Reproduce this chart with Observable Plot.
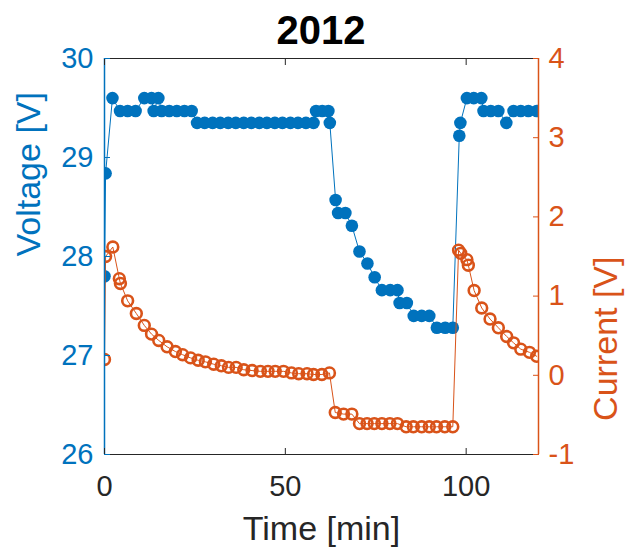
<!DOCTYPE html>
<html>
<head>
<meta charset="utf-8">
<script src="https://cdn.jsdelivr.net/npm/d3@7"></script>
<script src="https://cdn.jsdelivr.net/npm/@observablehq/plot@0.6"></script>
<style>
  html, body { margin: 0; padding: 0; background: #fff; }
  #title { height: 50px; width: 625px; text-align: center; font-family: "Liberation Sans", Arial, sans-serif; font-weight: bold; font-size: 40px; line-height: 60px; color: #000; padding-left: 17px; box-sizing: border-box; }
</style>
</head>
<body>
<div id="title">2012</div>
<div id="chart"></div>
<script>
// ---- data ----
const chartTitle = "2012";
const xLabel = "Time [min]";
const yLeftLabel = "Voltage [V]";
const yRightLabel = "Current [V]";
const xTicks = [0, 50, 100];
const voltTicks = [26, 27, 28, 29, 30];
const currentTicks = [-1, 0, 1, 2, 3, 4];

const timeV = [0, 0.3, 2.2, 4.3, 6.4, 8.6, 11.0, 13.0, 13.6, 14.9, 15.8, 17.9, 20.0, 22.1, 24.1,
  25.6, 27.7, 29.9, 32.0, 34.2, 36.3, 38.5, 40.6, 42.8, 44.9, 47.1, 49.2, 51.4, 53.5, 55.7, 57.8,
  58.5, 60.2, 61.9, 62.3, 63.9, 64.6, 66.6, 68.4, 70.5, 72.7, 74.7, 76.7, 79.0, 81.0, 81.6, 83.6,
  85.5, 87.7, 89.8, 91.9, 94.2, 96.3, 98.1, 98.4, 100.2, 102.1, 104.2, 104.8, 106.8, 108.9, 111.1,
  113.1, 115.1, 117.2, 119.5];
const voltage = [27.8, 28.84, 29.6, 29.47, 29.47, 29.47, 29.6, 29.6, 29.47, 29.6, 29.47, 29.47, 29.47, 29.47, 29.47,
  29.35, 29.35, 29.35, 29.35, 29.35, 29.35, 29.35, 29.35, 29.35, 29.35, 29.35, 29.35, 29.35, 29.35, 29.35, 29.35,
  29.47, 29.47, 29.47, 29.35, 28.57, 28.44, 28.44, 28.31, 28.05, 27.93, 27.79, 27.66, 27.66, 27.66, 27.53, 27.53,
  27.40, 27.40, 27.40, 27.28, 27.28, 27.28, 29.22, 29.35, 29.6, 29.6, 29.6, 29.47, 29.47, 29.47, 29.35,
  29.47, 29.47, 29.47, 29.47];

const timeI = [0, 0.3, 2.3, 4.1, 4.4, 6.4, 8.8, 11.0, 13.0, 15.0, 17.3, 19.6, 21.6, 23.8, 25.9,
  27.9, 30.2, 32.3, 34.3, 36.4, 38.5, 40.8, 43.1, 45.2, 47.2, 49.5, 51.7, 53.7, 56.0, 57.8,
  60.1, 62.2, 63.8, 66.1, 68.4, 70.5, 72.6, 74.6, 76.7, 78.9, 81.0, 83.4, 85.4, 87.7, 89.8,
  91.8, 94.1, 96.3, 97.9, 98.5, 100.2, 100.6, 102.2, 104.3, 106.6, 108.9, 111.2, 113.1, 115.1, 117.5, 119.5];
const current = [0.2, 1.5, 1.62, 1.22, 1.16, 0.94, 0.78, 0.63, 0.52, 0.44, 0.36, 0.30, 0.26, 0.22, 0.19,
  0.17, 0.14, 0.12, 0.10, 0.10, 0.07, 0.06, 0.05, 0.05, 0.05, 0.05, 0.03, 0.02, 0.02, 0.01,
  0.01, 0.03, -0.47, -0.49, -0.49, -0.61, -0.61, -0.61, -0.61, -0.61, -0.61, -0.65, -0.65, -0.65, -0.65,
  -0.65, -0.65, -0.65, 1.58, 1.54, 1.46, 1.39, 1.07, 0.85, 0.71, 0.60, 0.49, 0.41, 0.33, 0.29, 0.24];

// ---- build ----
const blue = "#0072BD", orange = "#D95319", dark = "#262626";
const vDomain = [26, 30], iDomain = [-1, 4];
// map current onto the voltage scale
const toV = c => vDomain[0] + (c - iDomain[0]) * (vDomain[1] - vDomain[0]) / (iDomain[1] - iDomain[0]);
const fromV = v => iDomain[0] + (v - vDomain[0]) * (iDomain[1] - iDomain[0]) / (vDomain[1] - vDomain[0]);

const volt = timeV.map((t, i) => ({t, v: voltage[i]}));
const curr = timeI.map((t, i) => ({t, c: current[i]}));

document.getElementById("title").textContent = chartTitle;

const fs = 29;
const chart = Plot.plot({
  width: 625,
  height: 501,
  marginLeft: 104,
  marginRight: 87,
  marginTop: 8,
  marginBottom: 97,
  x: {domain: [0, 120]},
  y: {domain: vDomain},
  style: {fontFamily: "'Liberation Sans', Arial, sans-serif", background: "#fff", overflow: "visible"},
  marks: [
    Plot.ruleY([vDomain[1]], {stroke: dark, strokeWidth: 1}),
    Plot.ruleY([vDomain[0]], {stroke: dark, strokeWidth: 1}),
    Plot.line(volt, {x: "t", y: "v", stroke: blue, strokeWidth: 1, clip: true}),
    Plot.dot(volt, {x: "t", y: "v", r: 6.3, fill: blue, stroke: null, clip: true}),
    Plot.line(curr, {x: "t", y: d => toV(d.c), stroke: orange, strokeWidth: 1, clip: true}),
    Plot.dot(curr, {x: "t", y: d => toV(d.c), r: 5.4, fill: "none", stroke: orange, strokeWidth: 2.6, clip: true}),
    Plot.ruleX([0], {stroke: blue, strokeWidth: 1.5}),
    Plot.ruleX([120], {stroke: orange, strokeWidth: 1.5}),
    Plot.axisX(xTicks, {anchor: "bottom", tickSize: -6, tickPadding: 6 + 21, fontSize: fs, color: dark, label: null}),
    Plot.axisX(xTicks, {anchor: "top", tickSize: -6, tickFormat: () => "", color: dark, label: null}),
    Plot.axisY(voltTicks, {anchor: "left", tickSize: -6, tickPadding: 6 + 11, fontSize: fs, color: blue, label: null,
      tickFormat: v => String(v)}),
    Plot.axisY(currentTicks.map(toV), {anchor: "right", tickSize: -6, tickPadding: 6 + 10, fontSize: fs, color: orange, label: null,
      tickFormat: v => String(Math.round(fromV(v)))}),
    Plot.text([xLabel], {frameAnchor: "bottom", dy: 85, fontSize: 34, fill: dark, text: d => d}),
    Plot.text([yLeftLabel], {frameAnchor: "left", dx: -75, rotate: -90, fontSize: 34, fill: blue, text: d => d}),
    Plot.text([yRightLabel], {frameAnchor: "right", dx: 68, rotate: -90, fontSize: 34, fill: orange, text: d => d})
  ]
});
document.getElementById("chart").appendChild(chart);
</script>
</body>
</html>
